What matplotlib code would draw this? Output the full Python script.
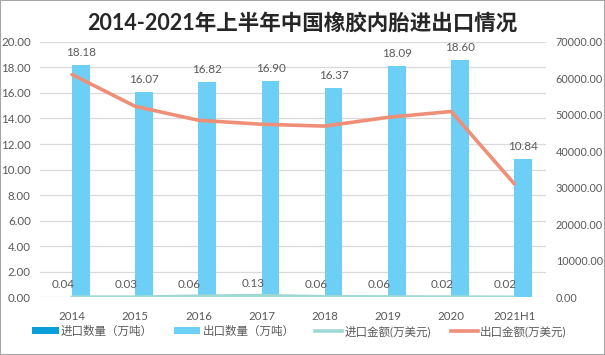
import numpy as np
import matplotlib
matplotlib.use('Agg')
import matplotlib.pyplot as plt
from matplotlib.patches import Rectangle, Patch
from matplotlib.lines import Line2D
from matplotlib.ticker import FormatStrFormatter, MultipleLocator

plt.rcParams['font.family'] = ['Lato', 'Noto Sans CJK SC', 'DejaVu Sans']

# 数据
years = ['2014', '2015', '2016', '2017', '2018', '2019', '2020', '2021H1']
import_qty = [0.04, 0.03, 0.06, 0.13, 0.06, 0.06, 0.02, 0.02]          # 进口数量（万吨）
export_qty = [18.18, 16.07, 16.82, 16.90, 16.37, 18.09, 18.60, 10.84]  # 出口数量（万吨）
import_val = [100, 80, 350, 500, 200, 150, 100, 60]                    # 进口金额(万美元)
export_val = [61000, 52300, 48500, 47400, 46900, 49300, 50900, 31100]  # 出口金额(万美元)

c_imp_bar = '#0a9fd8'
c_exp_bar = '#6dcff6'
c_imp_line = '#9fd8d3'
c_exp_line = '#ef8f78'
c_text = '#595959'
c_grid = '#d9d9d9'

fig = plt.figure(figsize=(6.05, 3.55), dpi=100)
ax = fig.add_axes([0.0669, 0.162, 0.8355, 0.7206])
ax2 = ax.twinx()

x = np.arange(len(years))
w = 0.28
ax.bar(x - w / 2, import_qty, w, color=c_imp_bar, zorder=2)
ax.bar(x + w / 2, export_qty, w, color=c_exp_bar, zorder=2)

for xi, v in zip(x - w / 2, import_qty):
    ax.annotate('%.2f' % v, (xi, v), xytext=(0, 9), textcoords='offset points',
                ha='center', va='center', fontsize=8.4, color=c_text)
for xi, v in zip(x + w / 2, export_qty):
    ax.annotate('%.2f' % v, (xi, v), xytext=(0, 9), textcoords='offset points',
                ha='center', va='center', fontsize=8.4, color=c_text)

ax2.plot(x, import_val, color=c_imp_line, lw=2.6, solid_capstyle='round', zorder=3)
ax2.plot(x, export_val, color=c_exp_line, lw=2.6, solid_capstyle='round', zorder=3)

ax.set_xlim(-0.5, len(years) - 0.5)
ax.set_ylim(0, 20)
ax2.set_ylim(0, 70000)
ax.yaxis.set_major_locator(MultipleLocator(2))
ax2.yaxis.set_major_locator(MultipleLocator(10000))
ax.yaxis.set_major_formatter(FormatStrFormatter('%.2f'))
ax2.yaxis.set_major_formatter(FormatStrFormatter('%.2f'))
ax.set_xticks(x)
ax.set_xticklabels(years)

ax.grid(axis='y', color=c_grid, lw=0.9, zorder=0)
ax.set_axisbelow(True)
for a in (ax, ax2):
    for s in a.spines.values():
        s.set_visible(False)
    a.tick_params(length=0, labelsize=8.3, labelcolor=c_text)
ax.tick_params(axis='y', pad=7)
ax2.tick_params(axis='y', pad=7, labelsize=7.8)
ax.tick_params(axis='x', pad=10)
ax.set_zorder(ax2.get_zorder() - 1)
ax.patch.set_visible(False)

fig.text(0.5, 1 - 23 / 355, '2014-2021年上半年中国橡胶内胎进出口情况',
         ha='center', va='center', fontsize=15.5, fontweight='bold', color='#262626')

handles = [
    Patch(facecolor=c_imp_bar),
    Patch(facecolor=c_exp_bar),
    Line2D([], [], color=c_imp_line, lw=2.6),
    Line2D([], [], color=c_exp_line, lw=2.6),
]
labels = ['进口数量（万吨）', '出口数量（万吨）', '进口金额(万美元)', '出口金额(万美元)']
fig.legend(handles, labels, loc='center', bbox_to_anchor=(0.495, 1 - 331 / 355),
           ncol=4, frameon=False, fontsize=8.3, handlelength=2.3, handleheight=0.5,
           handletextpad=0.2, columnspacing=1.8, labelcolor=c_text)

fig.patches.append(Rectangle((0, 0), 1, 1, transform=fig.transFigure, fill=False,
                             edgecolor='#a6a6a6', lw=1.5))

fig.savefig('out.png', dpi=100)
